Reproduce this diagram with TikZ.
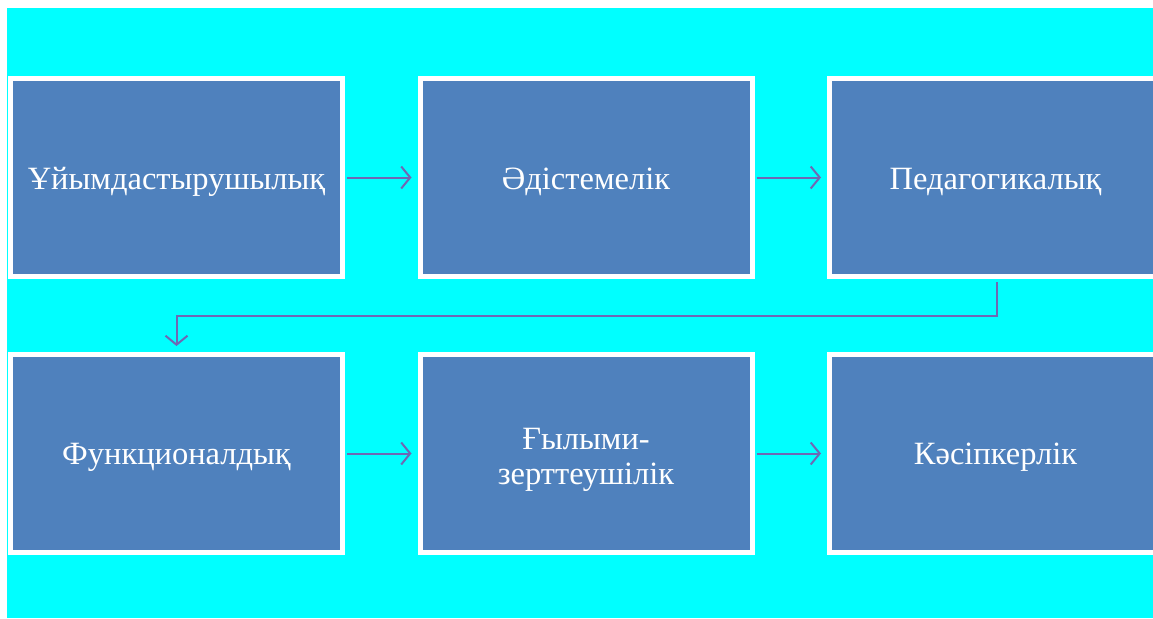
\documentclass[tikz,border=0pt]{standalone}
\usepackage{fontspec}
\setmainfont{Liberation Serif}
\usetikzlibrary{arrows.meta}
\definecolor{bgcyan}{RGB}{0,255,255}
\definecolor{boxblue}{RGB}{79,129,189}
\definecolor{arrowcol}{RGB}{110,104,180}
\tikzset{
  stepbox/.style={draw=white, line width=5pt, fill=boxblue, minimum width=332pt, minimum height=198pt,
    inner sep=0pt},
  steptext/.style={text=white, align=center, inner sep=0pt, yshift=-4pt, font=\fontsize{32.5}{35}\selectfont},
  flow/.style={draw=arrowcol, line width=2pt, -{Straight Barb[length=9pt,width=22pt,line width=2pt]}}
}
\begin{document}
\begin{tikzpicture}[x=1pt,y=-1pt]
\useasboundingbox (0,0) rectangle (1153,618);
\fill[white] (0,0) rectangle (1153,618);
\fill[bgcyan] (7,8) rectangle (1153,618);
\begin{scope}
\clip (7,8) rectangle (1153,618);
\node[stepbox] (b1) at (176.5,177.5) {};
\node[stepbox] (b2) at (586,177.5) {};
\node[stepbox] (b3) at (995.5,177.5) {};
\node[stepbox] (b4) at (176.5,453.5) {};
\node[stepbox] (b5) at (586,453.5) {};
\node[stepbox] (b6) at (995.5,453.5) {};
\end{scope}
\node[steptext] (t1) at (b1.center) {Ұйымдастырушылық};
\node[steptext] (t2) at (b2.center) {Әдістемелік};
\node[steptext] (t3) at (b3.center) {Педагогикалық};
\node[steptext] (t4) at (b4.center) {Функционалдық};
\node[steptext, yshift=-2pt] (t5) at (b5.center) {Ғылыми-\\зерттеушілік};
\node[steptext] (t6) at (b6.center) {Кәсіпкерлік};
\draw[flow, shorten <=2pt, shorten >=6pt] (b1.east) -- (b2.west);
\draw[flow, shorten <=2pt, shorten >=6pt] (b2.east) -- (b3.west);
\draw[flow, shorten <=2pt, shorten >=6pt] (b4.east) -- (b5.west);
\draw[flow, shorten <=2pt, shorten >=6pt] (b5.east) -- (b6.west);
\draw[flow, shorten <=3pt, shorten >=6pt] (b3.south) ++(1.5,0) -- ++(0,37) -| (b4.north);
\end{tikzpicture}
\end{document}
